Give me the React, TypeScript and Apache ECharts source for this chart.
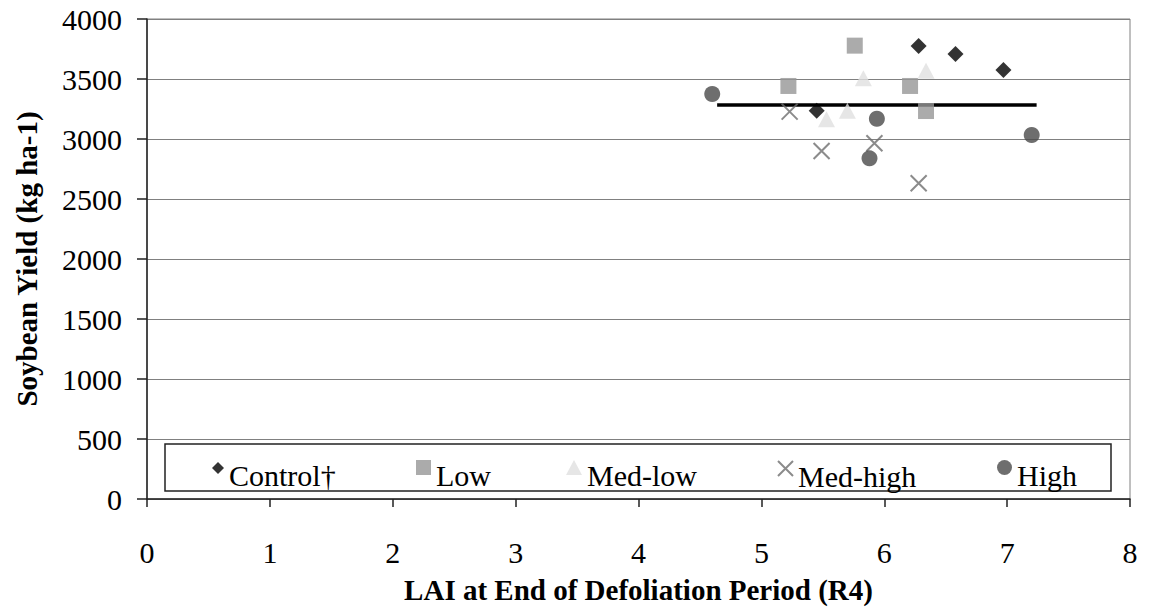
import React, { useEffect, useRef } from "react";
import * as echarts from "echarts";

const seriesNames = ["Control†", "Low", "Med-low", "Med-high", "High"];

const controlData = [
  [6.28, 3775],
  [6.58, 3708],
  [6.97, 3575],
  [5.45, 3236],
];
const lowData = [
  [5.76, 3778],
  [5.22, 3442],
  [6.21, 3442],
  [6.34, 3233],
];
const medLowData = [
  [5.83, 3506],
  [6.34, 3569],
  [5.7, 3236],
  [5.53, 3164],
];
const medHighData = [
  [5.23, 3228],
  [5.49, 2900],
  [5.92, 2964],
  [6.28, 2631],
];
const highData = [
  [4.6, 3375],
  [5.94, 3169],
  [5.88, 2839],
  [7.2, 3033],
];
const meanLine = [
  [4.64, 3283],
  [7.24, 3283],
];

const xTicks = { min: 0, max: 8, interval: 1 };
const yTicks = { min: 0, max: 4000, interval: 500 };

const FONT = "Liberation Serif, Times New Roman, serif";
const X_PATH = "path://M0,0L16,16M16,0L0,16";

// legend icons: drawn in the upper half of a taller box so they sit above the text centre
const LEGEND_ICONS = [
  "path://M6,0L12,6L6,12L0,6Z M0,26L0,26",
  "path://M0,0L15,0L15,15L0,15Z M0,30L0,30",
  "path://M8,0L16,15L0,15Z M0,30L0,30",
  "path://M0,0L15,15M15,0L0,15 M0,30L0,30",
  "path://M15,7.5A7.5,7.5,0,1,1,0,7.5A7.5,7.5,0,1,1,15,7.5Z M0,30L0,30",
];
const LEGEND_SIZES = [
  [12, 26],
  [15, 30],
  [16, 30],
  [15, 30],
  [15, 30],
];

export default function App() {
  const ref = useRef<HTMLDivElement>(null);

  useEffect(() => {
    if (!ref.current) return;
    const chart = echarts.init(ref.current, undefined, { renderer: "svg" });

    const legendLefts = [212, 416, 566, 777, 997];

    const legends = seriesNames.map((name, i) => ({
      data: [{ name, icon: LEGEND_ICONS[i] }],
      left: legendLefts[i],
      top: 460,
      padding: 0,
      itemWidth: LEGEND_SIZES[i][0],
      itemHeight: LEGEND_SIZES[i][1],
      z: 5,
      selectedMode: false,
      textStyle: {
        fontFamily: FONT,
        fontSize: 30,
        color: "#000",
      },
    }));

    chart.setOption({
      animation: false,
      backgroundColor: "#fff",
      textStyle: { fontFamily: FONT },
      grid: {
        left: 147,
        right: 19,
        top: 19,
        bottom: 111,
        show: true,
        borderColor: "#808080",
        borderWidth: 1,
        backgroundColor: "transparent",
      },
      legend: legends,
      graphic: [
        {
          type: "rect",
          z: 3,
          shape: { x: 165, y: 444, width: 946, height: 47 },
          style: { fill: "#fff", stroke: "#222", lineWidth: 1.5 },
        },
      ],
      xAxis: {
        type: "value",
        min: xTicks.min,
        max: xTicks.max,
        interval: xTicks.interval,
        name: "LAI at End of Defoliation Period (R4)",
        nameLocation: "middle",
        nameGap: 76,
        nameTextStyle: {
          fontFamily: FONT,
          fontSize: 29,
          fontWeight: "bold",
          color: "#000",
        },
        axisLine: { show: true, lineStyle: { color: "#222", width: 1.5 } },
        axisTick: { show: true, length: 8, lineStyle: { color: "#222", width: 1.5 } },
        axisLabel: {
          margin: 38,
          fontFamily: FONT,
          fontSize: 30,
          color: "#000",
          formatter: (v: number) => String(v),
        },
        splitLine: { show: false },
      },
      yAxis: {
        type: "value",
        min: yTicks.min,
        max: yTicks.max,
        interval: yTicks.interval,
        name: "Soybean Yield (kg ha-1)",
        nameLocation: "middle",
        nameGap: 106,
        nameTextStyle: {
          fontFamily: FONT,
          fontSize: 29,
          fontWeight: "bold",
          color: "#000",
        },
        axisLine: { show: true, lineStyle: { color: "#222", width: 1.5 } },
        axisTick: { show: true, length: 10, lineStyle: { color: "#222", width: 1.5 } },
        axisLabel: {
          margin: 25,
          fontFamily: FONT,
          fontSize: 30,
          color: "#000",
          formatter: (v: number) => String(v),
        },
        splitLine: { show: true, lineStyle: { color: "#808080", width: 1 } },
      },
      series: [
        {
          name: "mean",
          type: "line",
          data: meanLine,
          symbol: "none",
          lineStyle: { color: "#000", width: 3.5 },
          z: 1,
        },
        {
          name: seriesNames[0],
          type: "scatter",
          data: controlData,
          symbol: "diamond",
          symbolSize: [16, 16],
          itemStyle: { color: "#000" },
          z: 3,
        },
        {
          name: seriesNames[1],
          type: "scatter",
          data: lowData,
          symbol: "rect",
          symbolSize: 16,
          itemStyle: { color: "#969696" },
          z: 3,
        },
        {
          name: seriesNames[2],
          type: "scatter",
          data: medLowData,
          symbol: "triangle",
          symbolSize: [17, 16],
          itemStyle: { color: "#e0e0e0" },
          z: 3,
        },
        {
          name: seriesNames[3],
          type: "scatter",
          data: medHighData,
          symbol: X_PATH,
          symbolSize: 16,
          itemStyle: { color: "transparent", borderColor: "#6e6e6e", borderWidth: 2 },
          z: 3,
        },
        {
          name: seriesNames[4],
          type: "scatter",
          data: highData,
          symbol: "circle",
          symbolSize: 16,
          itemStyle: { color: "#4a4a4a" },
          z: 3,
        },
      ],
    });

    return () => chart.dispose();
  }, []);

  return (
    <div
      ref={ref}
      style={{ position: "fixed", left: 0, top: 0, width: 1149, height: 610 }}
    />
  );
}
